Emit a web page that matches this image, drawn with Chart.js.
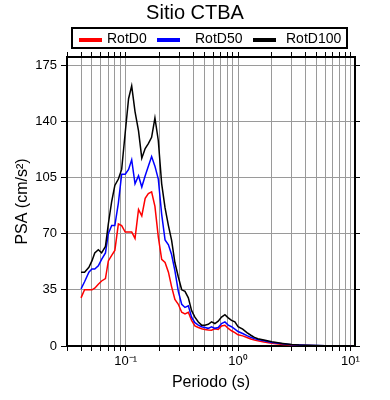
<!DOCTYPE html>
<html>
<head>
<meta charset="utf-8">
<script src="https://cdn.jsdelivr.net/npm/chart.js@4.4.0/dist/chart.umd.min.js"></script>
<style>
  body { margin: 0; background: #fff; }
  #wrap { width: 390px; height: 400px; }
</style>
</head>
<body>
<div id="wrap"><canvas id="psaChart" width="390" height="400"></canvas></div>
<script>
// ===== Data =====
const periods = [0.040, 0.043, 0.047, 0.050, 0.053, 0.057, 0.061, 0.066, 0.070, 0.075,
    0.080, 0.086, 0.092, 0.099, 0.106, 0.113, 0.121, 0.130, 0.139, 0.149,
    0.159, 0.170, 0.182, 0.195, 0.209, 0.224, 0.240, 0.256, 0.274, 0.294,
    0.315, 0.337, 0.361, 0.386, 0.413, 0.443, 0.474, 0.507, 0.543, 0.581,
    0.622, 0.666, 0.713, 0.764, 0.818, 0.875, 0.937, 1.0, 1.1, 1.2,
    1.3, 1.4, 1.5, 1.7, 2.0, 2.5, 3.0, 3.5, 4.0, 5.0,
    6.0, 7.0, 8.0, 9.0, 10.0];

const rotD0 = [30, 35, 35, 35, 36, 38.5, 40.5, 42, 53, 56.5,
    59.5, 76, 75, 71, 71, 71, 67, 85, 81, 92,
    95, 96, 87, 68, 54, 52, 46, 37, 29, 26,
    21, 20, 21, 16, 12.5, 11.5, 10.8, 10.3, 10, 9.8,
    10.8, 10.3, 12.5, 12.9, 11, 9.5, 8.3, 7, 6.3, 5.3,
    4.4, 3.7, 3.2, 2.5, 1.7, 1.0, 0.6, 0.4, 0.3, 0.2,
    0.13, 0.1, 0.08, 0.06, 0.05];

const rotD50 = [35.6, 40, 46, 48, 48, 50, 54, 58, 70, 75,
    75, 89, 107, 107, 110, 116, 101, 106, 99, 106,
    112, 118, 112, 104, 82, 66, 63, 57, 47, 34,
    26, 24, 25, 18, 14.5, 13, 12, 11.5, 11, 12,
    11, 11.5, 14, 15, 13, 12, 10.5, 9, 7.8, 6.5,
    5.4, 4.6, 4.0, 3.3, 2.2, 1.4, 0.8, 0.55, 0.4, 0.27,
    0.18, 0.13, 0.1, 0.08, 0.07];

const rotD100 = [46, 46, 49, 53, 58, 60, 58, 62, 76, 90,
    100, 104, 110, 133, 154, 162, 146, 134, 117, 123,
    126, 130, 142, 128, 101, 86, 75, 66, 52, 43,
    35, 34, 30, 22, 18, 15, 13, 13, 13.5, 15,
    14, 15.5, 18, 19.5, 17.5, 16, 15, 12, 10.5, 8.3,
    6.7, 5.4, 4.5, 3.8, 2.6, 1.6, 0.9, 0.6, 0.45, 0.3,
    0.2, 0.15, 0.12, 0.1, 0.08];

const seriesNames = ['RotD0', 'RotD50', 'RotD100'];
const seriesColors = ['#ff0000', '#0000ff', '#000000'];

// ===== Axis ticks =====
const xGridTicks = [0.03, 0.04, 0.05, 0.06, 0.07, 0.08, 0.09,
    0.1, 0.2, 0.3, 0.4, 0.5, 0.6, 0.7, 0.8, 0.9,
    1, 2, 3, 4, 5, 6, 7, 8, 9, 10];
const xTickLabels = { 0.1: '10⁻¹', 1: '10⁰', 10: '10¹' };
const yTicks = [0, 35, 70, 105, 140, 175];

// ===== Legend in a box (GMT style) =====
const boxedLegend = {
    id: 'boxedLegend',
    afterDraw(chart) {
        const ctx = chart.ctx;
        const lineX = [79, 157, 253];
        const textX = [107, 195, 286];
        ctx.save();
        ctx.strokeStyle = '#000';
        ctx.lineWidth = 2;
        ctx.strokeRect(72, 28, 275, 20);
        ctx.font = '14px "Liberation Sans", Arial, sans-serif';
        ctx.textBaseline = 'middle';
        ctx.fillStyle = '#000';
        seriesNames.forEach((name, i) => {
            ctx.strokeStyle = seriesColors[i];
            ctx.lineWidth = 4;
            ctx.beginPath();
            ctx.moveTo(lineX[i], 40);
            ctx.lineTo(lineX[i] + 23, 40);
            ctx.stroke();
            ctx.fillText(name, textX[i], 39);
        });
        ctx.restore();
    }
};

// ===== Chart =====
Chart.defaults.font.family = '"Liberation Sans", Arial, Helvetica, sans-serif';
Chart.defaults.color = '#000';

const series = [rotD0, rotD50, rotD100];
const datasets = series.map((vals, i) => ({
    label: seriesNames[i],
    data: periods.map((p, j) => ({ x: p, y: vals[j] })),
    borderColor: seriesColors[i],
    borderWidth: 1.5,
    pointRadius: 0,
    fill: false,
    tension: 0,
    order: 2 - i
}));

const gridStyle = { color: '#9a9a9a', lineWidth: 1, tickColor: '#000', tickLength: 5 };
const axisBorder = { display: true, color: '#000', width: 2 };

new Chart(document.getElementById('psaChart'), {
    type: 'line',
    data: { datasets },
    options: {
        responsive: false,
        animation: false,
        layout: { padding: 0 },
        plugins: {
            legend: { display: false },
            tooltip: { enabled: false },
            title: {
                display: true,
                text: 'Sitio CTBA',
                font: { size: 20, weight: 'normal' },
                color: '#000',
                padding: { top: 1, bottom: 27 }
            }
        },
        scales: {
            x: {
                type: 'logarithmic',
                position: 'bottom',
                min: 0.03,
                max: 11,
                afterBuildTicks: s => { s.ticks = xGridTicks.map(v => ({ value: v })); },
                afterFit: s => { s.height = 54; },
                grid: gridStyle,
                border: axisBorder,
                ticks: {
                    autoSkip: false,
                    maxRotation: 0,
                    padding: 3,
                    font: { size: 13 },
                    color: '#000',
                    callback: v => xTickLabels[v] || ''
                },
                title: { display: true, text: 'Periodo (s)', font: { size: 16 }, color: '#000', padding: { top: 4, bottom: 8 } }
            },
            xTop: {
                type: 'logarithmic',
                position: 'top',
                min: 0.03,
                max: 11,
                afterBuildTicks: s => { s.ticks = xGridTicks.map(v => ({ value: v })); },
                afterFit: s => { s.height = 5; },
                grid: { ...gridStyle, drawOnChartArea: false },
                border: axisBorder,
                ticks: { display: false, autoSkip: false }
            },
            y: {
                position: 'left',
                min: 0,
                max: 180,
                afterBuildTicks: s => { s.ticks = yTicks.map(v => ({ value: v })); },
                afterFit: s => { s.width = 67; },
                grid: { ...gridStyle, tickLength: 6 },
                border: axisBorder,
                ticks: { padding: 4, font: { size: 13 }, color: '#000' },
                title: { display: true, text: 'PSA (cm/s²)', font: { size: 16 }, color: '#000', padding: { top: 13, bottom: 4 } }
            },
            yRight: {
                position: 'right',
                min: 0,
                max: 180,
                afterBuildTicks: s => { s.ticks = yTicks.map(v => ({ value: v })); },
                afterFit: s => { s.width = 35; },
                grid: { ...gridStyle, drawOnChartArea: false },
                border: axisBorder,
                ticks: { display: false }
            }
        }
    },
    plugins: [boxedLegend]
});
</script>
</body>
</html>
